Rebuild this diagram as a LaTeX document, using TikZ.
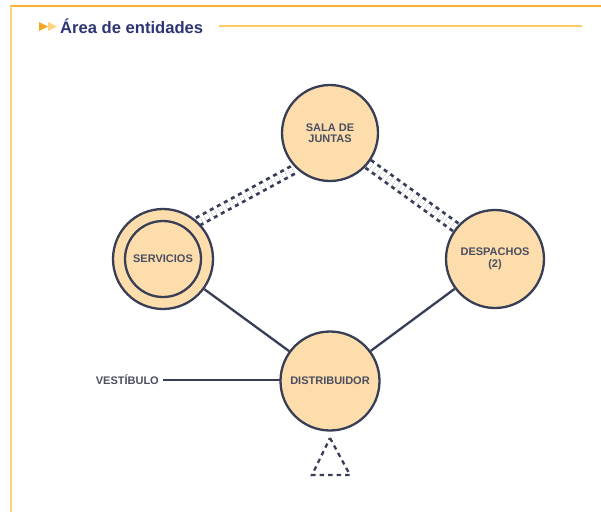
\documentclass[tikz,border=0pt]{standalone}
\usepackage{fontspec}
\setmainfont{Liberation Sans}
\usetikzlibrary{backgrounds}
\definecolor{navy}{HTML}{383E56}
\definecolor{peach}{HTML}{FDDDAC}
\definecolor{txt}{HTML}{4A4E60}
\definecolor{ttl}{HTML}{2E3574}
\definecolor{frameA}{HTML}{FBB232}
\definecolor{frameB}{HTML}{FFD07A}
\definecolor{rule}{HTML}{FFCB66}
\definecolor{arrA}{HTML}{F5A623}
\definecolor{arrB}{HTML}{FFD27F}
\tikzset{
  room/.style={circle, draw=navy, fill=peach, line width=2.3pt, inner sep=0pt,
    align=center, text=txt, font=\fontsize{11}{11.5}\selectfont\bfseries},
  inner room/.style={circle, draw=navy, line width=2.3pt, inner sep=0pt,
    align=center, text=txt, font=\fontsize{11}{11.5}\selectfont\bfseries},
  lbl/.style={text=txt, font=\fontsize{11}{12}\selectfont\bfseries, inner sep=2pt},
  link/.style={draw=navy, line width=2.3pt},
  dlink/.style={draw=navy, line width=2.8pt, double=white, dash pattern=on 4pt off 4pt},
  tri/.style={draw=navy, line width=2.3pt, dash pattern=on 4.5pt off 4pt}
}
\begin{document}
\begin{tikzpicture}[x=1pt,y=-1pt]
\useasboundingbox (0,0) rectangle (601,512);
% frame
\draw[frameA, line width=2pt] (10,6) -- (601,6);
\draw[frameB, line width=2pt] (11,6) -- (11,512);
% title
\fill[arrA] (39,22) -- (39,31) -- (48,26.5) -- cycle;
\fill[arrB] (48,22) -- (48,31) -- (57,26.5) -- cycle;
\node[anchor=base west, inner sep=0pt, text=ttl, font=\fontsize{16.6}{18}\selectfont\bfseries] (title) at (60,33) {Área de entidades};
\coordinate (r1) at (219,26);
\coordinate (r2) at (582,26);
\draw[rule, line width=1.5pt] (r1) -- (r2);
% rooms
\node[room, minimum size=96pt] (sala) at (330,133) {SALA DE\\JUNTAS};
\node[room, minimum size=100pt] (serv) at (163,259) {};
\node[inner room, minimum size=76pt] (servin) at (163,259) {SERVICIOS};
\node[room, minimum size=98pt] (desp) at (495,259) {DESPACHOS\\(2)};
\node[room, minimum size=99pt] (dist) at (330,381) {DISTRIBUIDOR};
\node[lbl, anchor=east] (vest) at (161,380) {VESTÍBULO};
% connectors
\begin{scope}[on background layer]
\draw[dlink, double distance=5.5pt] (serv.47) -- (sala.226);
\draw[dlink, double distance=6.5pt] (sala.321) -- (desp.141);
\draw[link] (serv) -- (dist);
\draw[link] (desp) -- (dist);
\coordinate (v0) at ([xshift=2pt]vest.east);
\draw[link] (v0) -- (v0 -| dist);
\end{scope}
% entrance triangle
\coordinate (t1) at (330,438);
\coordinate (t2) at (350,475);
\coordinate (t3) at (312,475);
\draw[tri] (t1) -- (t2) -- (t3) -- cycle;
\end{tikzpicture}
\end{document}
